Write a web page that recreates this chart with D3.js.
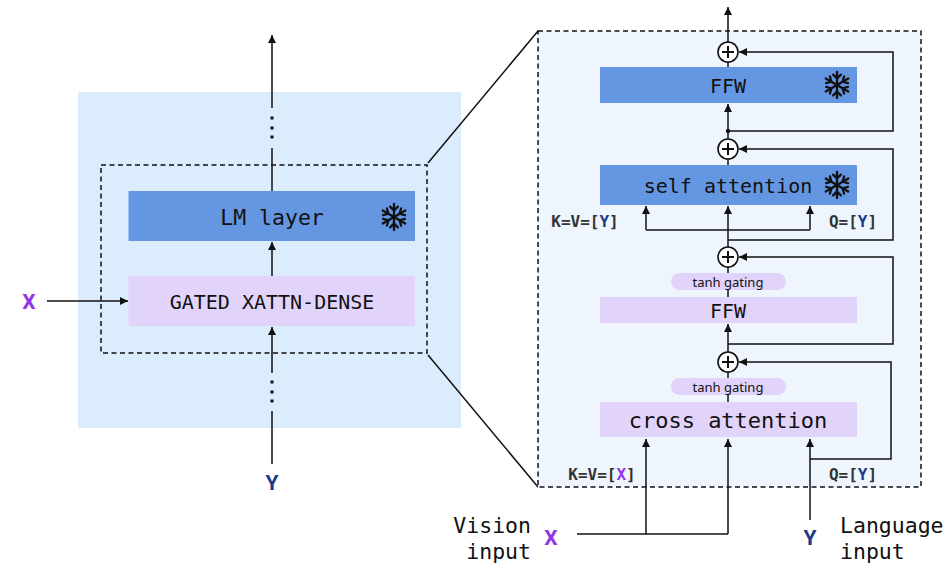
<!DOCTYPE html>
<html><head><meta charset="utf-8">
<script src="https://cdn.jsdelivr.net/npm/d3@7/dist/d3.min.js"></script>
<style>html,body{margin:0;padding:0;background:#fff;}svg{display:block;}</style>
</head><body>
<svg id="c" width="952" height="569"></svg>
<script>
// ---- content ----
const leftBlocks = ["LM layer", "GATED XATTN-DENSE"];
const leftFrozen = [true, false];
const rightBlocks = ["FFW", "self attention", "FFW", "cross attention"];
const rightFrozen = [true, true, false, false];
const gateLabels = ["tanh gating", "tanh gating"];
const visionLabel = ["Vision", "input"];
const languageLabel = ["Language", "input"];
const kvLabels = [["K=V=[", "Y", "]"], ["K=V=[", "X", "]"]];
const qLabels = [["Q=[", "Y", "]"], ["Q=[", "Y", "]"]];

// ---- style / layout ----
const C = {
  bgLeft: "#dbecfc", bgRight: "#eef5fd", blue: "#6596e2", purple: "#e2d3fb",
  xCol: "#9334ea", yCol: "#1b3a8c", ink: "#111"
};
const mono = "'DejaVu Sans Mono', 'Liberation Mono', monospace";
const sans = "Roboto, 'Noto Sans', 'DejaVu Sans', sans-serif";

const svg = d3.select("#c");
const defs = svg.append("defs");
defs.append("marker").attr("id", "ah").attr("viewBox", "0 0 10 10")
  .attr("refX", 10).attr("refY", 5).attr("markerWidth", 8).attr("markerHeight", 8)
  .attr("markerUnits", "userSpaceOnUse").attr("orient", "auto")
  .append("path").attr("d", "M0,0 L10,5 L0,10 Z").attr("fill", C.ink);

const line = d3.line();
function path(pts, arrow) {
  const p = svg.append("path").attr("d", line(pts)).attr("fill", "none")
    .attr("stroke", C.ink).attr("stroke-width", 1.5);
  if (arrow) p.attr("marker-end", "url(#ah)");
  return p;
}
function snowflake(cx, cy, R) {
  const g = svg.append("g").attr("transform", `translate(${cx},${cy})`)
    .attr("stroke", C.ink).attr("stroke-width", 2.3).attr("stroke-linecap", "round").attr("fill", "none");
  d3.range(6).forEach(k => {
    const a = (Math.PI / 2) + k * Math.PI / 3;
    const ux = Math.cos(a), uy = Math.sin(a);
    g.append("line").attr("x1", 0).attr("y1", 0).attr("x2", ux * R).attr("y2", uy * R);
    const px = ux * R * 0.5, py = uy * R * 0.5, b = R * 0.42;
    [-1, 1].forEach(s => {
      const ba = a + s * Math.PI / 4;
      g.append("line").attr("x1", px).attr("y1", py)
        .attr("x2", px + Math.cos(ba) * b).attr("y2", py + Math.sin(ba) * b);
    });
  });
}
function plus(cx, cy) {
  svg.append("circle").attr("cx", cx).attr("cy", cy).attr("r", 10)
    .attr("fill", "#fff").attr("stroke", C.ink).attr("stroke-width", 1.6);
  path([[cx - 6, cy], [cx + 6, cy]]).attr("stroke-width", 2);
  path([[cx, cy - 6], [cx, cy + 6]]).attr("stroke-width", 2);
}
function colored(x, y, parts, size, anchor) {
  const t = svg.append("text").attr("x", x).attr("y", y).attr("text-anchor", anchor || "middle")
    .attr("dominant-baseline", "central").attr("font-family", mono).attr("font-weight", "bold")
    .attr("font-size", size).attr("fill", "#333");
  parts.forEach((p, i) => {
    t.append("tspan").text(p).attr("fill", i === 1 ? (p === "X" ? C.xCol : C.yCol) : "#333");
  });
}

// ---- LEFT PANEL ----
svg.append("rect").attr("x", 78).attr("y", 92).attr("width", 383).attr("height", 336).attr("fill", C.bgLeft);
svg.append("rect").attr("x", 101).attr("y", 165).attr("width", 326).attr("height", 188)
  .attr("fill", "none").attr("stroke", C.ink).attr("stroke-width", 1.5).attr("stroke-dasharray", "5,3.5");

// ---- connectors between panels ----
path([[428, 163], [538, 31]]);
path([[428, 355], [538, 487]]);

const lx = 272;
const leftY = [191, 276];
const leftFont = [21.5, 20];
leftBlocks.forEach((lbl, i) => {
  svg.append("rect").attr("x", 128.5).attr("y", leftY[i]).attr("width", 286.5).attr("height", 50)
    .attr("fill", i === 0 ? C.blue : C.purple);
  svg.append("text").attr("x", lx).attr("y", leftY[i] + 26).attr("text-anchor", "middle")
    .attr("dominant-baseline", "central").attr("font-family", mono).attr("font-size", leftFont[i])
    .attr("fill", C.ink).text(lbl);
  if (leftFrozen[i]) snowflake(394, leftY[i] + 26, 13);
});
// vertical flow
path([[lx, 108], [lx, 35]], true);
[118, 128, 137].forEach(y => svg.append("rect").attr("x", lx - 1.5).attr("y", y - 1.5).attr("width", 3).attr("height", 3).attr("fill", C.ink));
path([[lx, 191], [lx, 148]]);
path([[lx, 276], [lx, 242]], true);
path([[lx, 464], [lx, 411]]);
[382, 392, 401].forEach(y => svg.append("rect").attr("x", lx - 1.5).attr("y", y - 1.5).attr("width", 3).attr("height", 3).attr("fill", C.ink));
path([[lx, 373], [lx, 327]], true);
path([[47, 301], [128, 301]], true);
svg.append("text").attr("x", 29).attr("y", 302).attr("text-anchor", "middle").attr("dominant-baseline", "central")
  .attr("font-family", sans).attr("font-weight", "bold").attr("font-size", 21).attr("fill", C.xCol).text("X");
svg.append("text").attr("x", lx).attr("y", 483).attr("text-anchor", "middle").attr("dominant-baseline", "central")
  .attr("font-family", sans).attr("font-weight", "bold").attr("font-size", 21).attr("fill", C.yCol).text("Y");

// ---- RIGHT PANEL ----
svg.append("rect").attr("x", 538).attr("y", 31).attr("width", 383).attr("height", 456)
  .attr("fill", C.bgRight).attr("stroke", C.ink).attr("stroke-width", 1.5).attr("stroke-dasharray", "5,3.5");

const mx = 728, bx0 = 600, bw = 257, rx = 893;
const rightY = [[67, 103], [165, 205], [297, 323], [402, 437]];
const plusY = [52, 149, 257, 362];
const colL = 646, colR = 810;

// main vertical spine (behind everything)
path([[mx, 42], [mx, 7]], true);
path([[mx, 62], [mx, 67]]);
path([[mx, 131], [mx, 104]], true);
path([[mx, 139], [mx, 131]]);
path([[mx, 159], [mx, 165]]);
path([[mx, 247], [mx, 206]], true);
path([[colL, 230], [colR, 230]]);
path([[colL, 230], [colL, 206]], true);
path([[colR, 230], [colR, 206]], true);
path([[mx, 267], [mx, 297]]);
path([[mx, 352], [mx, 324]], true);
path([[mx, 372], [mx, 402]]);
// skip connections
path([[mx, 131], [rx, 131], [rx, 52], [mx + 11, 52]], true);
svg.append("circle").attr("cx", mx).attr("cy", 131).attr("r", 2.2).attr("fill", C.ink);
path([[mx, 240], [rx, 240], [rx, 149], [mx + 11, 149]], true);
path([[mx, 344], [rx, 344], [rx, 257], [mx + 11, 257]], true);
path([[colR, 459], [891, 459], [891, 362], [mx + 11, 362]], true);
// inputs
path([[577, 534], [mx, 534]]);
path([[colL, 534], [colL, 439]], true);
path([[mx, 534], [mx, 439]], true);
path([[colR, 520], [colR, 439]], true);

rightBlocks.forEach((lbl, i) => {
  const [y0, y1] = rightY[i];
  svg.append("rect").attr("x", bx0).attr("y", y0).attr("width", bw).attr("height", y1 - y0)
    .attr("fill", i < 2 ? C.blue : C.purple);
  svg.append("text").attr("x", mx).attr("y", (y0 + y1) / 2 + 1).attr("text-anchor", "middle")
    .attr("dominant-baseline", "central").attr("font-family", mono).attr("font-size", i === 3 ? 22 : 20)
    .attr("fill", C.ink).text(lbl);
  if (rightFrozen[i]) snowflake(837, (y0 + y1) / 2, 13);
});
plusY.forEach(y => plus(mx, y));
const pillY = [273, 378];
gateLabels.forEach((g, i) => {
  svg.append("rect").attr("x", 671).attr("y", pillY[i]).attr("width", 115).attr("height", 17)
    .attr("rx", 8.5).attr("fill", C.purple);
  svg.append("text").attr("x", mx).attr("y", pillY[i] + 8.5).attr("text-anchor", "middle")
    .attr("dominant-baseline", "central").attr("font-family", "'Noto Sans', 'Open Sans', sans-serif").attr("font-size", 13)
    .attr("fill", C.ink).text(g);
});
colored(585, 221, kvLabels[0], 16);
colored(853, 221, qLabels[0], 16);
colored(602, 474, kvLabels[1], 16);
colored(853, 474, qLabels[1], 16);

// input labels
visionLabel.forEach((t, i) => svg.append("text").attr("x", 531).attr("y", 525 + i * 26)
  .attr("text-anchor", "end").attr("dominant-baseline", "central").attr("font-family", mono)
  .attr("font-size", 21.5).attr("fill", C.ink).text(t));
languageLabel.forEach((t, i) => svg.append("text").attr("x", 840).attr("y", 525 + i * 26)
  .attr("text-anchor", "start").attr("dominant-baseline", "central").attr("font-family", mono)
  .attr("font-size", 21.5).attr("fill", C.ink).text(t));
svg.append("text").attr("x", 551).attr("y", 538).attr("text-anchor", "middle").attr("dominant-baseline", "central")
  .attr("font-family", sans).attr("font-weight", "bold").attr("font-size", 21).attr("fill", C.xCol).text("X");
svg.append("text").attr("x", 810).attr("y", 538).attr("text-anchor", "middle").attr("dominant-baseline", "central")
  .attr("font-family", sans).attr("font-weight", "bold").attr("font-size", 21).attr("fill", C.yCol).text("Y");
</script>
</body></html>
